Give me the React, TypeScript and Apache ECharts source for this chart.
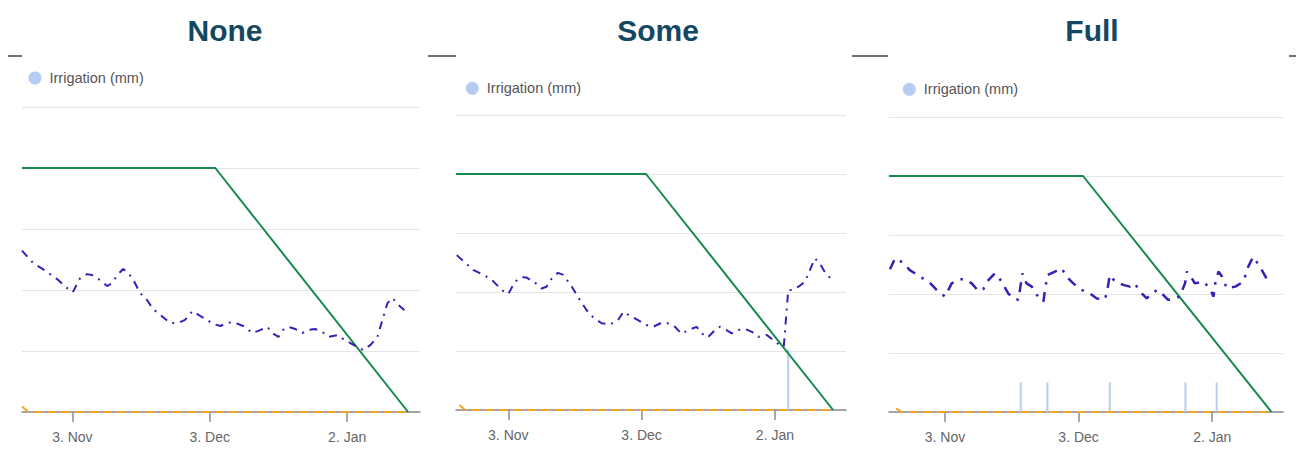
import { useEffect, useRef } from 'react';
import * as echarts from 'echarts';

// x values are days counted from 23 Oct; y on a 0-100 scale (gridlines every 20)
const TICK_DAYS = [11, 41, 71];
const TICK_LABELS = ['3. Nov', '3. Dec', '2. Jan'];
const PANEL_TITLES = ['None', 'Some', 'Full'];
const LEGEND_NAME = 'Irrigation (mm)';

const NONE_SOIL: [number, number][] = [
  [0, 52.9], [2.4, 48.9], [5.5, 45.9], [7.9, 43.3], [9.8, 40.7], [11.1, 39.3], [12.7, 43.9], [14.2, 45.2],
  [15.3, 44.9], [17.0, 43.3], [18.6, 41.3], [19.7, 42.3], [20.8, 44.9], [22.1, 46.9], [23.2, 45.6], [24.3, 43.3],
  [25.8, 39.0], [27.3, 36.7], [28.6, 33.8], [30.8, 31.1], [32.3, 29.2], [34.1, 29.2], [35.6, 30.2], [37.2, 33.1],
  [38.9, 31.5], [40.4, 30.2], [41.7, 28.9], [43.3, 28.2], [44.8, 29.2], [46.1, 29.5], [48.3, 28.2], [50.3, 25.9],
  [51.6, 26.6], [53.6, 27.9], [54.6, 25.9], [56.0, 24.6], [57.0, 26.9], [58.1, 27.9], [59.7, 27.2], [61.2, 25.9],
  [62.5, 26.9], [64.0, 27.2], [65.6, 26.2], [66.9, 24.6], [68.9, 25.2], [70.2, 23.9], [71.7, 22.6], [73.2, 21.3],
  [74.5, 20.3], [76.1, 22.0], [77.6, 24.6], [78.7, 30.2], [79.8, 35.7], [80.9, 37.4], [82.2, 35.1], [83.5, 33.4],
];
const NONE_CROP: [number, number][] = [[0, 80], [42.2, 80], [84.3, 0]];
const NONE_STRESS: [number, number][] = [[0, 1.8], [1.4, 0], [84.3, 0]];
const NONE_IRRIGATION: [number, number][] = [];

const SOME_SOIL: [number, number][] = [
  [-0.6, 52.5], [3.1, 47.5], [5.4, 45.8], [7.3, 44.1], [9.5, 40.7], [11.0, 39.3], [12.5, 43.5], [14.0, 45.0],
  [15.1, 44.9], [17.0, 43.2], [18.5, 41.2], [19.6, 41.8], [20.8, 44.6], [22.2, 46.5], [23.4, 45.8], [25.3, 41.8],
  [27.1, 37.3], [28.6, 33.9], [30.1, 31.4], [32.0, 29.4], [33.9, 29.0], [35.7, 30.5], [36.9, 33.3], [38.4, 31.9],
  [39.9, 30.7], [42.1, 28.8], [43.6, 28.2], [45.5, 29.6], [46.6, 29.6], [48.5, 28.2], [50.0, 25.8], [51.5, 27.1],
  [53.4, 28.2], [54.5, 26.0], [55.9, 24.6], [57.5, 27.1], [58.6, 28.2], [60.1, 27.1], [61.3, 26.0], [62.8, 27.1],
  [64.3, 27.5], [65.8, 26.5], [67.3, 24.8], [69.2, 25.4], [70.6, 23.7], [72.1, 22.0], [73.0, 21.5], [74.0, 40.7],
  [74.8, 40.7], [76.3, 41.8], [77.8, 43.5], [78.9, 47.5], [80.0, 51.4], [81.1, 49.7], [82.2, 46.9], [83.8, 44.1],
];
const SOME_CROP: [number, number][] = [[-0.77, 80], [42.0, 80], [84.1, 0]];
const SOME_STRESS: [number, number][] = [[0, 1.7], [1.3, 0], [84.1, 0]];
const SOME_IRRIGATION: [number, number][] = [[74, 20.6]];

const FULL_SOIL: [number, number][] = [
  [-1.35, 48.4], [-0.2, 52.1], [1.6, 50.6], [3.1, 48.1], [5.4, 45.9], [7.6, 43.8], [9.5, 40.8], [11.0, 39.1],
  [12.5, 43.6], [14.4, 45.0], [15.5, 45.0], [17.0, 43.6], [18.5, 41.0], [19.6, 41.6], [20.4, 44.2], [22.2, 47.0],
  [23.0, 45.9], [24.1, 43.1], [25.2, 40.2], [26.3, 38.5], [27.5, 38.0], [28.0, 43.1], [28.4, 47.0], [29.3, 43.6],
  [30.5, 42.5], [31.6, 39.7], [33.1, 37.4], [33.4, 40.8], [34.0, 46.4], [35.7, 47.6], [37.2, 48.7], [38.3, 45.9],
  [39.8, 43.6], [41.7, 41.4], [43.5, 40.2], [45.1, 38.5], [46.9, 38.2], [47.4, 40.8], [48.0, 46.4], [49.2, 44.2],
  [51.0, 43.1], [52.5, 42.5], [53.6, 43.6], [54.8, 40.8], [56.3, 38.5], [57.4, 40.2], [58.7, 41.4], [60.0, 39.7],
  [61.1, 38.0], [62.6, 38.5], [63.7, 39.1], [64.9, 43.6], [65.3, 47.6], [66.0, 46.4], [67.1, 43.6], [69.0, 44.2],
  [70.5, 41.9], [71.3, 39.1], [71.7, 43.6], [72.4, 47.6], [73.2, 45.9], [74.3, 41.9], [76.2, 42.5], [78.0, 44.2],
  [79.1, 49.3], [80.2, 52.6], [81.7, 49.3], [83.2, 45.3],
];
const FULL_CROP: [number, number][] = [[-1.57, 80], [42.0, 80], [84.3, 0]];
const FULL_STRESS: [number, number][] = [[0, 1.2], [1.3, 0], [84.3, 0]];
const FULL_IRRIGATION: [number, number][] = [[28, 10], [34, 10], [48, 10], [65, 10], [72, 10]];

const X_RANGES: [number, number][] = [[0, 86.9], [-0.77, 87], [-1.57, 86.9]];

const FONT = '"Liberation Sans", Arial, sans-serif';

const panels = [
  {
    soil: NONE_SOIL, crop: NONE_CROP, stress: NONE_STRESS, irr: NONE_IRRIGATION,
    grid: { left: 22, top: 107, width: 398, height: 305 }, titleX: 225, legend: { left: 28.5, top: 70.5 }, soilW: 2,
  },
  {
    soil: SOME_SOIL, crop: SOME_CROP, stress: SOME_STRESS, irr: SOME_IRRIGATION,
    grid: { left: 456, top: 115, width: 390, height: 295 }, titleX: 658, legend: { left: 465.8, top: 80.8 }, soilW: 2,
  },
  {
    soil: FULL_SOIL, crop: FULL_CROP, stress: FULL_STRESS, irr: FULL_IRRIGATION,
    grid: { left: 889, top: 117, width: 394, height: 295 }, titleX: 1092, legend: { left: 902.8, top: 81.8 }, soilW: 2.5,
  },
];

function buildOption() {
  const grids: any[] = [];
  const xAxes: any[] = [];
  const yAxes: any[] = [];
  const legends: any[] = [];
  const series: any[] = [];
  const graphics: any[] = [];

  panels.forEach((p, i) => {
    grids.push({ ...p.grid, containLabel: false });
    xAxes.push({
      type: 'value',
      gridIndex: i,
      min: X_RANGES[i][0],
      max: X_RANGES[i][1],
      splitLine: { show: false },
      axisLine: { show: true, onZero: false, lineStyle: { color: '#8c8c8c', width: 1.5 } },
      axisTick: { show: true, customValues: TICK_DAYS, length: 10, lineStyle: { color: '#8c8c8c', width: 1.5 } },
      axisLabel: {
        show: true,
        customValues: TICK_DAYS,
        formatter: (v: number) => {
          const k = TICK_DAYS.findIndex((t) => Math.abs(t - v) < 0.01);
          return k >= 0 ? TICK_LABELS[k] : '';
        },
        fontSize: 14,
        color: '#666666',
        fontFamily: FONT,
        margin: 18,
      },
    });
    yAxes.push({
      type: 'value',
      gridIndex: i,
      min: 0,
      max: 100,
      interval: 20,
      axisLabel: { show: false },
      axisLine: { show: false },
      axisTick: { show: false },
      splitLine: { show: true, lineStyle: { color: '#e6e6e6', width: 1 } },
    });
    legends.push({
      data: [LEGEND_NAME],
      left: p.legend.left,
      top: p.legend.top,
      padding: 0,
      icon: 'circle',
      itemWidth: 13,
      itemHeight: 13,
      selectedMode: false,
      textStyle: { fontSize: 14.5, color: '#555555', fontFamily: FONT, padding: [0, 0, 0, 3] },
    });
    series.push({
      type: 'bar',
      name: LEGEND_NAME,
      xAxisIndex: i,
      yAxisIndex: i,
      data: p.irr,
      barWidth: 2,
      itemStyle: { color: '#b5cdf2' },
      z: 1,
    });
    series.push({
      type: 'line',
      name: 'Stress ' + i,
      xAxisIndex: i,
      yAxisIndex: i,
      data: p.stress,
      symbol: 'none',
      lineStyle: { color: '#f5a524', width: 2, type: [8, 6] },
      z: 3,
    });
    series.push({
      type: 'line',
      name: 'Crop ' + i,
      xAxisIndex: i,
      yAxisIndex: i,
      data: p.crop,
      symbol: 'none',
      lineStyle: { color: '#168a4e', width: 2 },
      z: 4,
    });
    const w = p.soilW;
    series.push({
      type: 'line',
      name: 'Soil ' + i,
      xAxisIndex: i,
      yAxisIndex: i,
      data: p.soil,
      symbol: 'none',
      lineStyle: { color: '#3a1fb5', width: w, type: [4 * w, 3 * w, w, 3 * w] },
      z: 5,
    });
    graphics.push({
      type: 'text',
      x: p.titleX,
      y: 30,
      style: {
        text: PANEL_TITLES[i],
        fill: '#144862',
        font: 'bold 30px ' + FONT,
        align: 'center',
        verticalAlign: 'middle',
      },
    });
  });

  const rules: [number, number][] = [[8, 22], [428, 456], [852, 888], [1289, 1296]];
  rules.forEach(([a, b]) => {
    graphics.push({
      type: 'line',
      shape: { x1: a, y1: 56, x2: b, y2: 56 },
      style: { stroke: '#707070', lineWidth: 2 },
    });
  });

  return {
    animation: false,
    backgroundColor: '#ffffff',
    grid: grids,
    xAxis: xAxes,
    yAxis: yAxes,
    legend: legends,
    series,
    graphic: graphics,
  };
}

export default function App() {
  const ref = useRef<HTMLDivElement>(null);
  useEffect(() => {
    const chart = echarts.init(ref.current!, null, { renderer: 'svg' });
    chart.setOption(buildOption() as any);
    return () => chart.dispose();
  }, []);
  return (
    <div
      ref={ref}
      style={{ position: 'absolute', left: 0, top: 0, width: 1296, height: 451 }}
    />
  );
}
